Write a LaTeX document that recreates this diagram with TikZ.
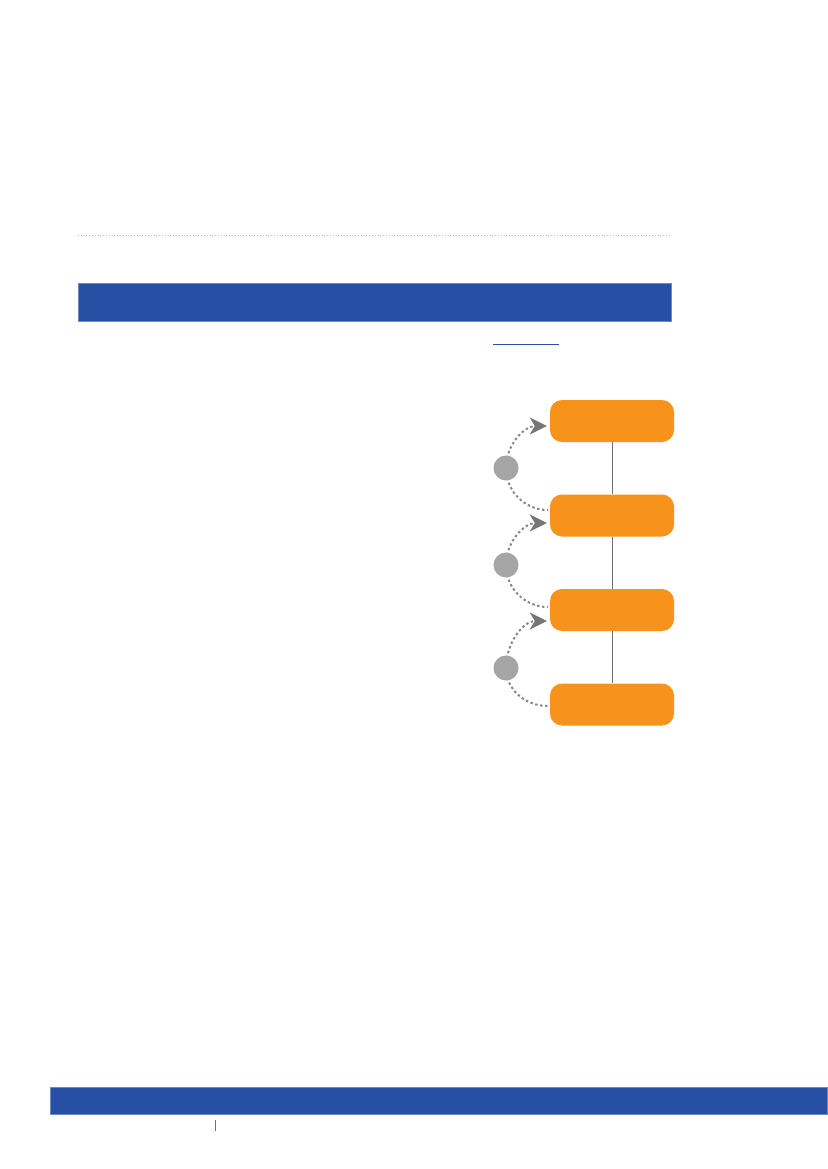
\documentclass[tikz,border=0pt]{standalone}
\usetikzlibrary{arrows.meta}
\definecolor{barblue}{HTML}{274FA4}
\definecolor{baredge}{HTML}{6A8ACB}
\definecolor{boxorange}{HTML}{F7931A}
\definecolor{dotgray}{HTML}{878787}
\definecolor{arrowgray}{HTML}{767676}
\definecolor{circgray}{HTML}{A6A5A5}
\definecolor{linegray}{HTML}{707070}
\definecolor{rulegray}{HTML}{BDBDBD}
\pgfdeclarelayer{back}
\pgfdeclarelayer{bg}
\pgfsetlayers{back,bg,main}
\begin{document}
\begin{tikzpicture}[x=1pt,y=1pt,
  stepbox/.style={rectangle,rounded corners=12pt,fill=boxorange,minimum width=124pt,minimum height=42pt,inner sep=0pt},
  dotnode/.style={circle,fill=circgray,minimum size=25pt,inner sep=0pt},
  loopline/.style={draw=dotgray,line width=2pt,dash pattern=on 2.4pt off 2.6pt},
  looparrow/.style={loopline,-{Stealth[length=17pt,width=17pt,inset=5pt,color=arrowgray]}},
  barstyle/.style={fill=barblue,draw=baredge,line width=0.8pt},
  link/.style={draw=linegray,line width=0.9pt}]
\useasboundingbox (0,0) rectangle (827,-1169);
\begin{pgfonlayer}{back}
  \fill[white] (0,0) rectangle (827,-1169);
\end{pgfonlayer}
% top rule and header bar
\draw[rulegray,dotted,line width=0.8pt] (78,-235) -- (671,-235);
\path[barstyle] (78,-283) rectangle (671.5,-321.5);
\draw[barblue,line width=1pt] (493,-344.5) -- (559,-344.5);
% boxes
\node[stepbox] (b1) at (612,-421) {};
\node[stepbox] (b2) at (612,-515.5) {};
\node[stepbox] (b3) at (612,-610) {};
\node[stepbox] (b4) at (612,-704.5) {};
% circles
\node[dotnode] (c1) at (506,-468) {};
\node[dotnode] (c2) at (506,-565) {};
\node[dotnode] (c3) at (506,-668) {};
\begin{pgfonlayer}{bg}
  \draw[link] (b1.south) -- (b2.north);
  \draw[link] (b2.south) -- (b3.north);
  \draw[link] (b3.south) -- (b4.north);
  \draw[looparrow] (c1.center) to[out=90,in=180] ([shift={(-3,-5)}]b1.west);
  \draw[loopline] (c1.center) to[out=-90,in=180] ([shift={(-2,5.5)}]b2.west);
  \draw[looparrow] (c2.center) to[out=90,in=180] ([shift={(-3,-7.5)}]b2.west);
  \draw[loopline] (c2.center) to[out=-90,in=180] ([shift={(-2,3)}]b3.west);
  \draw[looparrow] (c3.center) to[out=90,in=180] ([shift={(-3,-11)}]b3.west);
  \draw[loopline] (c3.center) to[out=-90,in=180] ([shift={(-2,-1.5)}]b4.west);
\end{pgfonlayer}
% footer
\path[barstyle] (50,-1087) rectangle (827,-1114);
\draw[linegray,line width=0.6pt] (215,-1120) -- (215,-1131);
\end{tikzpicture}
\end{document}
